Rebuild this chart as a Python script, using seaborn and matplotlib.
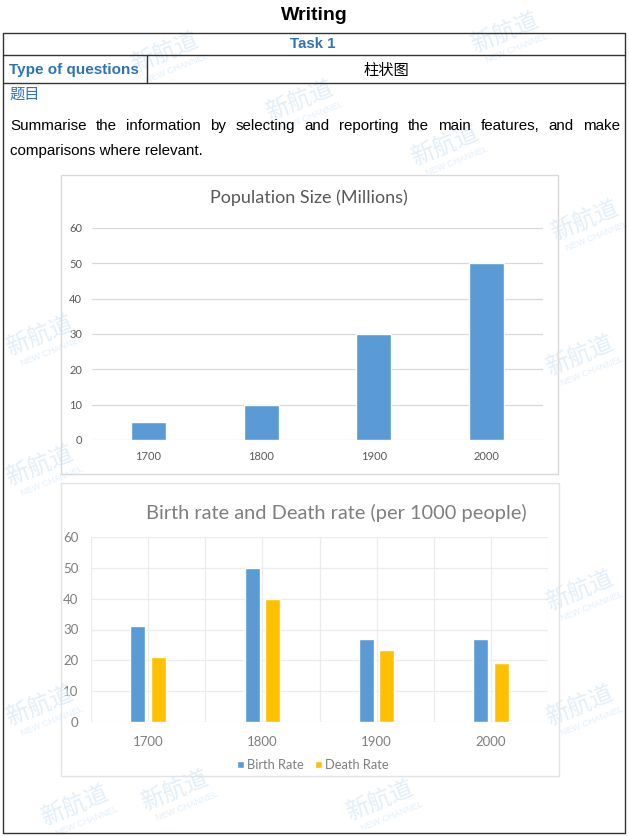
import matplotlib
matplotlib.use('Agg')
import matplotlib.pyplot as plt
import seaborn as sns
import pandas as pd
from matplotlib.lines import Line2D
from matplotlib.patches import Rectangle

years = ['1700', '1800', '1900', '2000']
population = [5, 10, 30, 50]
birth_rate = [31, 50, 27, 27]
death_rate = [21, 40, 23.5, 19]
rate_names = ['Birth Rate', 'Death Rate']

W, H = 629, 836
BLUE = '#5B9BD5'
GOLD = '#FFC000'
DOC_BLUE = '#2E74B5'
CHART_FONT = ['Lato', 'DejaVu Sans']
DOC_FONT = ['Liberation Sans', 'Noto Sans CJK SC', 'DejaVu Sans']

sns.set_theme(style='white')
plt.rcParams['font.family'] = DOC_FONT

fig = plt.figure(figsize=(W / 100, H / 100), dpi=100)
fig.patch.set_facecolor('white')


def fx(x):
    return x / W


def fy(y):
    return 1 - y / H


def hline(x0, x1, y, color='#333333', lw=1.0):
    fig.add_artist(Line2D([fx(x0), fx(x1)], [fy(y), fy(y)], color=color, lw=lw))


def vline(x, y0, y1, color='#333333', lw=1.0):
    fig.add_artist(Line2D([fx(x), fx(x)], [fy(y0), fy(y1)], color=color, lw=lw))


# faint watermarks
marks = [(165, 52), (300, 100), (505, 32), (445, 145), (585, 220), (40, 335),
         (580, 355), (40, 465), (580, 590), (40, 705), (580, 705), (175, 790),
         (380, 800), (75, 805)]
for mx, my in marks:
    fig.text(fx(mx), fy(my), '新航道', fontsize=17, color='#d6e8f7', alpha=0.7,
             rotation=22, ha='center', va='center', family=['Noto Sans CJK SC'], zorder=0)
    fig.text(fx(mx + 12), fy(my + 16), 'NEW CHANNEL', fontsize=6.5, color='#d6e8f7', alpha=0.7,
             rotation=22, ha='center', va='center', zorder=0)

# document heading and table
fig.text(0.5, fy(15), 'Writing', fontsize=14, weight='bold', ha='center', va='center', color='black')
hline(3, 625, 33)
hline(3, 625, 55)
hline(3, 625, 83)
hline(3, 625, 833)
vline(3, 33, 833)
vline(625, 33, 833)
vline(147, 55, 83)

fig.text(fx(313), fy(44), 'Task 1', fontsize=10.8, weight='bold', ha='center', va='center', color=DOC_BLUE)
fig.text(fx(9), fy(70), 'Type of questions', fontsize=11, weight='bold', ha='left', va='center', color=DOC_BLUE)
fig.text(fx(386), fy(70), '柱状图', fontsize=11, ha='center', va='center', color='black',
         family=['Noto Sans CJK SC'])
fig.text(fx(9), fy(94), '题目', fontsize=11, ha='left', va='center', color=DOC_BLUE,
         family=['Noto Sans CJK SC'])

# justified first line of the prompt
line1 = 'Summarise the information by selecting and reporting the main features, and make'.split()
renderer = fig.canvas.get_renderer()
word_texts = [fig.text(0, fy(126), w, fontsize=10.9, ha='left', va='center', color='black') for w in line1]
widths = [t.get_window_extent(renderer).width for t in word_texts]
left, right = 10, 620
gap = (right - left - sum(widths)) / (len(line1) - 1)
xpos = left
for t, wd in zip(word_texts, widths):
    t.set_x(fx(xpos))
    xpos += wd + gap
fig.text(fx(10), fy(151), 'comparisons where relevant.', fontsize=10.9, ha='left', va='center', color='black')

# chart frames
fig.add_artist(Rectangle((fx(61), fy(474)), fx(558 - 61), (474 - 175) / H,
                         fill=False, edgecolor='#d9d9d9', lw=1))
fig.add_artist(Rectangle((fx(61), fy(776)), fx(559 - 61), (776 - 483) / H,
                         fill=False, edgecolor='#e3e3e3', lw=1))

# chart 1: population
ax1 = fig.add_axes([fx(92), fy(440), fx(543 - 92), (440 - 228) / H])
ax1.set_facecolor('none')
sns.barplot(x=years, y=population, color=BLUE, saturation=1, width=0.31, ax=ax1, zorder=3)
ax1.set_xlim(-0.5, 3.5)
ax1.set_ylim(0, 60)
ax1.set_yticks(range(0, 61, 10))
ax1.grid(axis='y', color='#d9d9d9', lw=0.9)
ax1.grid(axis='x', visible=False)
for s in ax1.spines.values():
    s.set_visible(False)
ax1.tick_params(axis='both', length=0, labelsize=8, labelcolor='#595959')
ax1.tick_params(axis='x', pad=8)
ax1.tick_params(axis='y', pad=7)
for lab in ax1.get_xticklabels() + ax1.get_yticklabels():
    lab.set_family(CHART_FONT)
ax1.set_xlabel('')
ax1.set_ylabel('')
fig.text(fx(309), fy(198), 'Population Size (Millions)', fontsize=13, color='#595959',
         ha='center', va='center', family=CHART_FONT)

# chart 2: birth and death rate
rates = pd.DataFrame({
    'year': years * 2,
    'rate': [rate_names[0]] * len(years) + [rate_names[1]] * len(years),
    'value': birth_rate + death_rate,
})
ax2 = fig.add_axes([fx(91), fy(722), fx(548 - 91), (722 - 537) / H])
ax2.set_facecolor('none')
sns.barplot(data=rates, x='year', y='value', hue='rate', palette=[BLUE, GOLD], saturation=1,
            width=0.36, gap=0.27, ax=ax2, zorder=3)
ax2.set_xlim(-0.5, 3.5)
ax2.set_ylim(0, 60)
ax2.set_yticks(range(0, 61, 10))
ax2.grid(axis='y', color='#ececec', lw=0.9)
for xv in [-0.5, 0, 0.5, 1, 1.5, 2, 2.5, 3, 3.5]:
    ax2.axvline(xv, color='#ececec', lw=0.9, zorder=0)
for s in ax2.spines.values():
    s.set_visible(False)
ax2.tick_params(axis='both', length=0, labelsize=9.5, labelcolor='#7f7f7f')
ax2.tick_params(axis='x', pad=10)
ax2.tick_params(axis='y', pad=9)
for lab in ax2.get_xticklabels() + ax2.get_yticklabels():
    lab.set_family(CHART_FONT)
ax2.set_xlabel('')
ax2.set_ylabel('')
handles, labels = ax2.get_legend_handles_labels()
ax2.legend(handles, labels, loc='center', bbox_to_anchor=(fx(313), fy(765)),
           bbox_transform=fig.transFigure, ncol=2, frameon=False, handlelength=0.55,
           handleheight=0.55, handletextpad=0.2, columnspacing=0.9,
           prop={'family': CHART_FONT, 'size': 9.3}, labelcolor='#7f7f7f')
fig.text(fx(336), fy(513), 'Birth rate and Death rate (per 1000 people)', fontsize=14.4,
         color='#7f7f7f', ha='center', va='center', family=CHART_FONT)

fig.savefig('out.png', dpi=100, facecolor='white')
